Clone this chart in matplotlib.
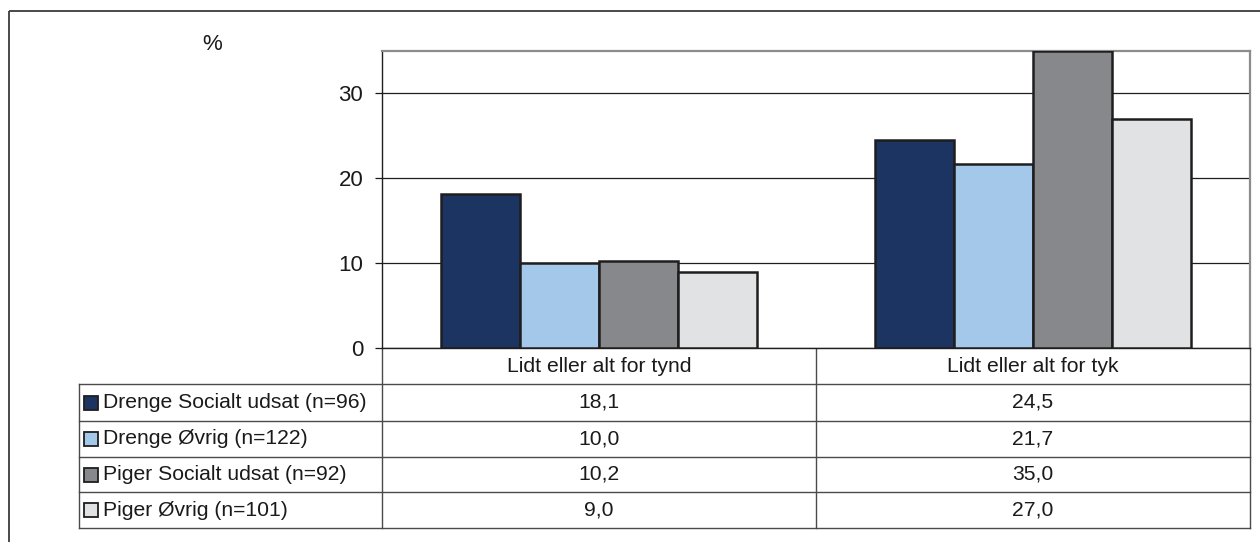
import numpy as np
import matplotlib
matplotlib.use("Agg")
import matplotlib.pyplot as plt
from matplotlib.patches import Rectangle

plt.rcParams["font.family"] = ["Liberation Sans", "DejaVu Sans"]

# data
categories = ["Lidt eller alt for tynd", "Lidt eller alt for tyk"]
series = ["Drenge Socialt udsat (n=96)", "Drenge Øvrig (n=122)",
          "Piger Socialt udsat (n=92)", "Piger Øvrig (n=101)"]
values = [
    [18.1, 24.5],
    [10.0, 21.7],
    [10.2, 35.0],
    [9.0, 27.0],
]
colors = ["#1c3461", "#a3c8ea", "#87888b", "#e1e2e4"]
yticks = [0, 10, 20, 30]

W, H = 1260, 542
fig = plt.figure(figsize=(W / 100, H / 100), dpi=100)
text_col = "#1a1a1a"
table_fs = 15.2

# overlay in pixel units for the frame and the data table
ov = fig.add_axes([0, 0, 1, 1], zorder=0)
ov.set_xlim(0, W)
ov.set_ylim(H, 0)
ov.axis("off")

ov.add_patch(Rectangle((9, 11), W + 20, H + 20, fill=False, edgecolor="#3c3c3c", linewidth=1.3))

# plot area (pixels): left 382, right 1250, top 51, bottom 348
pl, pr, pt, pb = 382, 1250, 51, 348
ax = fig.add_axes([pl / W, 1 - pb / H, (pr - pl) / W, (pb - pt) / H], zorder=2)

x = np.arange(len(categories))
bw = 0.182
for i, (name, vals) in enumerate(zip(series, values)):
    ax.bar(x + (i - 1.5) * bw, vals, width=bw, color=colors[i],
           edgecolor="#1e1e1e", linewidth=1.8, zorder=3)

ax.set_xlim(-0.5, len(categories) - 0.5)
ax.set_ylim(0, 35)
ax.set_yticks(yticks)
ax.set_xticks([])
ax.yaxis.grid(True, color="#1e1e1e", linewidth=0.9)
ax.set_axisbelow(True)
ax.tick_params(axis="y", length=5, width=0.9, pad=8.5, labelsize=16, colors=text_col)
for s in ["top", "right"]:
    ax.spines[s].set_color("#8c8c8c")
    ax.spines[s].set_linewidth(1.6)
for s in ["left", "bottom"]:
    ax.spines[s].set_color("#1e1e1e")
    ax.spines[s].set_linewidth(1.0)

ov.text(212, 45, "%", fontsize=16, ha="center", va="center", color=text_col)

# data table below the axis
row_lines = [384, 421, 457, 492, 528]
leg_left = 79
mid = (pl + pr) / 2
line_col = "#4a4a4a"

for y in row_lines:
    ov.plot([leg_left, pr], [y, y], color=line_col, linewidth=1.0)
ov.plot([leg_left, leg_left], [row_lines[0], row_lines[-1]], color=line_col, linewidth=1.0)
for xv in [pl, mid, pr]:
    ov.plot([xv, xv], [pb, row_lines[-1]], color=line_col, linewidth=1.0)

col_centers = [(pl + mid) / 2, (mid + pr) / 2]
for c, cat in zip(col_centers, categories):
    ov.text(c, (pb + row_lines[0]) / 2, cat, fontsize=table_fs, ha="center", va="center", color=text_col)

for r, (name, vals) in enumerate(zip(series, values)):
    yc = (row_lines[r] + row_lines[r + 1]) / 2
    ov.add_patch(Rectangle((84, yc - 7), 14, 14, facecolor=colors[r], edgecolor="#1e1e1e", linewidth=1.3))
    ov.text(103, yc, name, fontsize=table_fs, ha="left", va="center", color=text_col)
    for c, v in zip(col_centers, vals):
        ov.text(c, yc, f"{v:.1f}".replace(".", ","), fontsize=table_fs, ha="center", va="center", color=text_col)

fig.savefig("out.png", dpi=100)
